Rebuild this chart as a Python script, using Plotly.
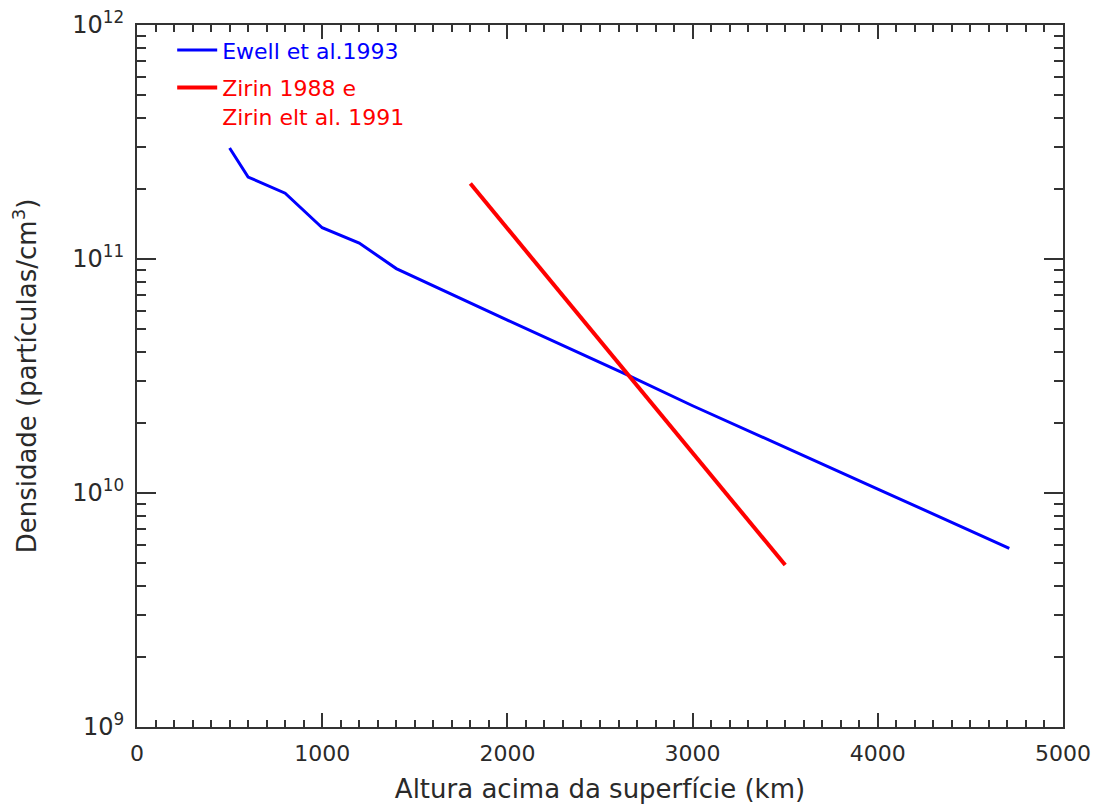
import plotly.graph_objects as go

# Ewell et al. 1993
ewell_x = [500, 600, 800, 1000, 1200, 1400, 2000, 2650, 3000, 3500, 4000, 4710]
ewell_y = [2.98e11, 2.24e11, 1.91e11, 1.36e11, 1.17e11, 9.1e10, 5.48e10, 3.19e10, 2.36e10, 1.57e10, 1.04e10, 5.8e9]

# Zirin 1988 e Zirin et al. 1991
zirin_x = [1800, 2000, 2500, 3000, 3500]
zirin_y = [2.1e11, 1.35e11, 4.48e10, 1.48e10, 4.92e9]

x_ticks = [0, 1000, 2000, 3000, 4000, 5000]
y_ticks = [1e9, 1e10, 1e11, 1e12]
y_exps = ["9", "10", "11", "12"]
y_ticktext = ["10<sup>%s</sup>" % e for e in y_exps]

FONT = "DejaVu Sans"
AX = "#333333"
TXT = "#2a2a2a"

fig = go.Figure()
fig.add_trace(go.Scatter(x=ewell_x, y=ewell_y, mode="lines",
                         line=dict(color="#0000ff", width=3), legendgroup="a",
                         name="<span style='color:#0000ff'>Ewell et al.1993</span>"))
fig.add_trace(go.Scatter(x=zirin_x, y=zirin_y, mode="lines",
                         line=dict(color="#ff0000", width=4), legendgroup="b",
                         name="<span style='color:#ff0000'>Zirin 1988 e<br>Zirin elt al. 1991</span>"))

fig.update_layout(
    width=1104, height=807,
    margin=dict(l=137, r=41, t=25, b=80, autoexpand=False),
    paper_bgcolor="white", plot_bgcolor="white",
    font=dict(family=FONT, size=22, color=TXT),
    showlegend=True,
    legend=dict(x=0.038, y=0.994, xanchor="left", yanchor="top",
                bgcolor="rgba(0,0,0,0)", borderwidth=0,
                font=dict(family=FONT, size=22), valign="top",
                tracegroupgap=6, itemwidth=40),
)
fig.update_xaxes(
    range=[0, 5000], tickvals=x_ticks, showgrid=False, zeroline=False,
    showline=True, linecolor=AX, linewidth=2, mirror="ticks",
    ticks="inside", ticklen=14, tickwidth=2, tickcolor=AX,
    minor=dict(ticks="inside", ticklen=7, tickwidth=2, tickcolor=AX, dtick=100, showgrid=False),
    title=dict(text="Altura acima da superfície (km)", standoff=14),
    tickfont=dict(size=22), ticklabelstandoff=6, automargin=False,
)
fig.update_yaxes(
    type="log", range=[9, 12], tickvals=y_ticks, ticktext=y_ticktext,
    showgrid=False, zeroline=False,
    showline=True, linecolor=AX, linewidth=2, mirror="ticks",
    ticks="inside", ticklen=19, tickwidth=2, tickcolor=AX,
    minor=dict(ticks="inside", ticklen=9, tickwidth=2, tickcolor=AX, dtick="D1", showgrid=False),
    title=dict(text="Densidade (partículas/cm<sup>3</sup>)", standoff=28),
    tickfont=dict(size=24), ticklabelstandoff=6, automargin=False,
)

fig.write_html("out.html")
